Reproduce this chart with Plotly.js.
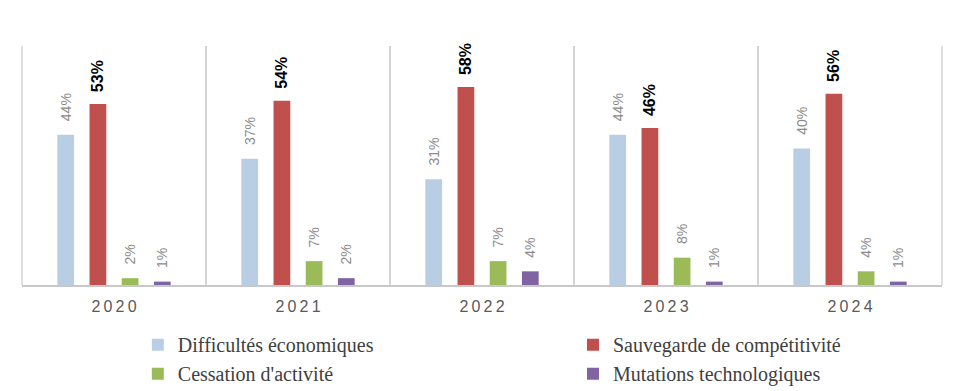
<!DOCTYPE html>
<html>
<head>
<meta charset="utf-8">
<script src="https://cdn.plot.ly/plotly-3.0.1.min.js"></script>
<style>html,body{margin:0;padding:0;background:#fff;}#chart{width:964px;height:391px;}</style>
</head>
<body>
<div id="chart"></div>
<script>
const years = ["2020", "2021", "2022", "2023", "2024"];
const seriesNames = ["Difficultés économiques", "Sauvegarde de compétitivité", "Cessation d'activité", "Mutations technologiques"];
const difficultes = [44, 37, 31, 44, 40];
const sauvegarde = [53, 54, 58, 46, 56];
const cessation = [2, 7, 7, 8, 4];
const mutations = [1, 2, 4, 1, 1];
const colors = ["#b9cde5", "#c0504d", "#9bbb59", "#8064a2"];
const legendOf = ["legend", "legend2", "legend", "legend2"];

const tickText = years.map(y => y.split("").join("\u2009"));
const allValues = [difficultes, sauvegarde, cessation, mutations];
const gridColor = "#d4d4d4";

const traces = allValues.map((vals, i) => {
  const bold = i === 1;
  const pad = bold ? "\u00a0\u00a0" : "\u00a0\u00a0\u2009";
  return {
    type: "bar",
    name: seriesNames[i],
    legend: legendOf[i],
    x: years,
    y: vals,
    marker: {color: colors[i]},
    text: vals.map(v => pad + (bold ? "<b>" + v + "%</b>" : v + "%")),
    textposition: "outside",
    textangle: -90,
    constraintext: "none",
    cliponaxis: false,
    textfont: bold
      ? {family: "Liberation Sans, Arial, sans-serif", size: 16, color: "#000000"}
      : {family: "Liberation Sans, Arial, sans-serif", size: 14, color: "#8c8c8c"},
    hoverinfo: "skip"
  };
});

const legendFont = {family: "Liberation Serif, 'DejaVu Serif', serif", size: 20, color: "#404040"};

const layout = {
  width: 964,
  height: 391,
  margin: {l: 22, r: 22, t: 46, b: 106, autoexpand: false},
  paper_bgcolor: "#ffffff",
  plot_bgcolor: "#ffffff",
  barmode: "group",
  bargap: 0.30,
  bargroupgap: 0.48,
  showlegend: true,
  legend: {
    orientation: "v",
    x: 0.1259,
    xanchor: "left",
    y: -0.168,
    yanchor: "top",
    traceorder: "normal",
    font: legendFont,
    bgcolor: "rgba(0,0,0,0)"
  },
  legend2: {
    orientation: "v",
    x: 0.5989,
    xanchor: "left",
    y: -0.168,
    yanchor: "top",
    traceorder: "normal",
    font: legendFont,
    bgcolor: "rgba(0,0,0,0)"
  },
  xaxis: {
    type: "category",
    tickmode: "array",
    tickvals: years,
    ticktext: tickText,
    tickson: "boundaries",
    ticks: "",
    showgrid: true,
    gridcolor: gridColor,
    gridwidth: 1.5,
    showline: true,
    linecolor: "#c8c8c8",
    linewidth: 2,
    ticklabelstandoff: 6,
    tickfont: {family: "Liberation Sans, Arial, sans-serif", size: 16, color: "#595959"},
    fixedrange: true
  },
  yaxis: {
    range: [0, 70],
    showgrid: false,
    zeroline: false,
    showticklabels: false,
    ticks: "",
    showline: false,
    fixedrange: true
  },
  shapes: [0, 1].map(p => ({
    type: "line", xref: "paper", yref: "paper",
    x0: p, x1: p, y0: 0, y1: 1,
    line: {color: gridColor, width: 1.5},
    layer: "below"
  }))
};

Plotly.newPlot("chart", traces, layout, {displayModeBar: false, staticPlot: true});
</script>
</body>
</html>
